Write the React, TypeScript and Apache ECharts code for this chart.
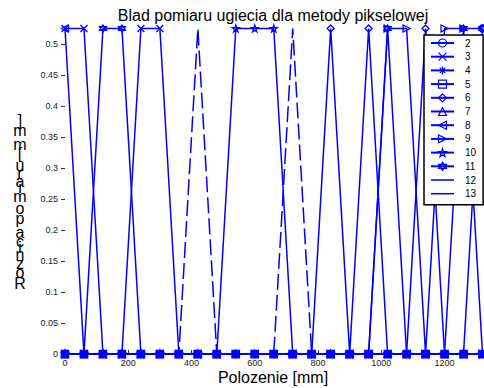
import React, { useEffect, useRef } from "react";
import * as echarts from "echarts";

// Measurement positions along the beam [mm]
const positions = [0, 60, 120, 180, 240, 300, 360, 420, 480, 540, 600, 660, 720, 780, 840, 900, 960, 1020, 1080, 1140, 1200, 1260, 1320];

// Measurement error for each series [mm]
const s2 = [0, 0, 0, 0, 0, 0, 0, 0, 0, 0, 0, 0, 0, 0, 0, 0, 0, 0, 0, 0, 0, 0, 0.525];
const s3 = [0.525, 0.525, 0, 0, 0.525, 0.525, 0, 0, 0, 0, 0, 0, 0, 0, 0, 0, 0, 0, 0, 0, 0, 0, 0];
const s4 = [0, 0, 0, 0, 0, 0, 0, 0, 0, 0, 0, 0, 0, 0, 0, 0, 0, 0, 0, 0, 0, 0, 0];
const s5 = [0, 0, 0, 0, 0, 0, 0, 0, 0, 0, 0, 0, 0, 0, 0, 0, 0, 0, 0, 0, 0, 0, 0];
const s6 = [0, 0, 0, 0, 0, 0, 0, 0, 0, 0, 0, 0, 0, 0, 0.525, 0, 0.525, 0, 0, 0.525, 0, 0, 0];
const s7 = [0, 0, 0, 0, 0, 0, 0, 0, 0, 0, 0, 0, 0, 0, 0, 0, 0, 0, 0, 0, 0, 0, 0];
const s8 = [0.525, 0, 0, 0, 0, 0, 0, 0, 0, 0, 0, 0, 0, 0, 0, 0, 0, 0, 0, 0, 0, 0, 0];
const s9 = [0, 0, 0, 0, 0, 0, 0, 0, 0, 0, 0, 0, 0, 0, 0, 0, 0, 0.525, 0.525, 0, 0.525, 0.525, 0];
const s10 = [0, 0, 0, 0, 0, 0, 0, 0, 0, 0.525, 0.525, 0.525, 0, 0, 0, 0, 0, 0, 0, 0, 0, 0, 0];
const s11 = [0, 0, 0.525, 0.525, 0, 0, 0, 0, 0, 0, 0, 0, 0, 0, 0, 0, 0, 0.525, 0, 0, 0, 0.525, 0.525];
const s12 = [0, 0, 0, 0, 0, 0, 0, 0.525, 0, 0, 0, 0, 0, 0, 0, 0, 0, 0, 0, 0, 0, 0, 0];
const s13 = [0, 0, 0, 0, 0, 0, 0, 0, 0, 0, 0, 0, 0.525, 0, 0, 0, 0, 0, 0, 0, 0, 0, 0];

const seriesNames = ["2", "3", "4", "5", "6", "7", "8", "9", "10", "11", "12", "13"];
const seriesValues = [s2, s3, s4, s5, s6, s7, s8, s9, s10, s11, s12, s13];

const xTicks = [0, 200, 400, 600, 800, 1000, 1200];
const yTicks = [0, 0.05, 0.1, 0.15, 0.2, 0.25, 0.3, 0.35, 0.4, 0.45, 0.5];

const titleText = "Blad pomiaru ugiecia dla metody pikselowej";
const xName = "Polozenie [mm]";
const yName = "Roznica pomiaru [mm]";

const BLUE = "#0000ff";
const FONT = '"Liberation Sans", Arial, Helvetica, sans-serif';

// MATLAB-like marker outlines
const markers: Record<string, string> = {
  "2": "path://M0,5 A5,5 0 1 1 10,5 A5,5 0 1 1 0,5 Z",
  "3": "path://M0,0 L10,10 M10,0 L0,10",
  "4": "path://M5,0 L5,10 M0,5 L10,5 M1.5,1.5 L8.5,8.5 M8.5,1.5 L1.5,8.5",
  "5": "path://M0,0 L10,0 L10,10 L0,10 Z",
  "6": "path://M5,0 L10,5 L5,10 L0,5 Z",
  "7": "path://M5,0 L10,10 L0,10 Z",
  "8": "path://M0,5 L10,0 L10,10 Z",
  "9": "path://M10,5 L0,0 L0,10 Z",
  "10": "path://M5,0 L6.12,3.45 L9.76,3.45 L6.82,5.59 L7.94,9.05 L5,6.91 L2.06,9.05 L3.18,5.59 L0.24,3.45 L3.88,3.45 Z",
  "11": "path://M5,0 L9.33,7.5 L0.67,7.5 Z M5,10 L0.67,2.5 L9.33,2.5 Z",
};

const dashed: Record<string, number[]> = {
  "12": [16, 5],
  "13": [16, 5],
};

// y-axis name as one rich text block: upright letters stacked bottom to top,
// each line as tall as the letter is wide
function verticalName(text: string, cx: number, yBottom: number, yTop: number) {
  const font = `16px ${FONT}`;
  const ctx = document.createElement("canvas").getContext("2d");
  if (ctx) ctx.font = font;
  const chars = Array.from(text);
  const widths = chars.map((ch) => (ctx ? ctx.measureText(ch).width : 8));
  const centers: number[] = [];
  let acc = 0;
  for (const w of widths) {
    centers.push(acc + w / 2);
    acc += w;
  }
  const k = (yBottom - yTop) / (centers[centers.length - 1] - centers[0]);
  const rich: Record<string, any> = {};
  const lines: string[] = [];
  for (let i = chars.length - 1; i >= 0; i--) {
    const key = "c" + i;
    rich[key] = {
      font,
      fill: "#000",
      lineHeight: widths[i] * k,
      align: "center",
    };
    lines.push(`{${key}|${chars[i]}}`);
  }
  const lastH = widths[chars.length - 1] * k;
  return {
    type: "text",
    x: cx,
    y: yTop - lastH / 2,
    silent: true,
    style: {
      text: lines.join("\n"),
      rich,
      fill: "#000",
      font,
      align: "center",
      verticalAlign: "top",
      textAlign: "center",
      textVerticalAlign: "top",
    },
  };
}

export default function App() {
  const ref = useRef<HTMLDivElement>(null);

  useEffect(() => {
    if (!ref.current) return;
    const chart = echarts.init(ref.current, null, { renderer: "svg" });

    const series = seriesNames.map((name, idx) => {
      const values = seriesValues[idx];
      const hasMarker = !!markers[name];
      return {
        name,
        type: "line",
        data: positions.map((x, i) => [x, values[i]]),
        symbol: hasMarker ? markers[name] : "none",
        symbolSize: 7,
        showSymbol: hasMarker,
        clip: false,
        lineStyle: {
          color: BLUE,
          width: 1.5,
          type: dashed[name] ? dashed[name] : "solid",
        },
        itemStyle: hasMarker
          ? { color: "rgba(0,0,0,0)", borderColor: BLUE, borderWidth: 1.3 }
          : { color: BLUE },
        emphasis: { disabled: true },
        z: 2,
      };
    });

    const legendData = seriesNames.map((name) =>
      markers[name]
        ? { name }
        : { name, icon: "path://M0,0 L30,0 L30,2 L0,2 Z" }
    );

    chart.setOption({
      animation: false,
      backgroundColor: "#fff",
      textStyle: { fontFamily: FONT },
      grid: {
        left: 65,
        right: 1.5,
        top: 28.5,
        bottom: 34,
        containLabel: false,
        outerBoundsMode: "none",
      },
      xAxis: {
        type: "value",
        min: 0,
        max: 1320,
        axisLine: { show: true, lineStyle: { color: "#333", width: 1 } },
        axisTick: {
          show: true,
          inside: true,
          length: 4,
          customValues: xTicks,
          lineStyle: { color: "#333" },
        },
        axisLabel: {
          customValues: xTicks,
          fontSize: 9,
          color: "#222",
          margin: 4,
          fontFamily: FONT,
          formatter: (v: number) => String(v),
        },
        splitLine: { show: false },
      },
      yAxis: {
        type: "value",
        min: 0,
        max: 0.525,
        axisLine: { show: false },
        axisTick: {
          show: true,
          inside: false,
          length: 4,
          customValues: yTicks,
          lineStyle: { color: "#333" },
        },
        axisLabel: {
          customValues: yTicks,
          fontSize: 9,
          color: "#222",
          margin: 7,
          fontFamily: FONT,
          formatter: (v: number) => String(v),
        },
        splitLine: { show: false },
      },
      legend: {
        orient: "vertical",
        left: 424,
        top: 35,
        padding: [3, 7, 6, 6],
        itemWidth: 23,
        itemHeight: 10,
        itemGap: 3.7,
        borderColor: "#000",
        borderWidth: 1.5,
        borderRadius: 0,
        backgroundColor: "#fff",
        selectedMode: false,
        itemStyle: { borderWidth: 1.2 },
        textStyle: { fontSize: 10, color: "#000", fontFamily: FONT, padding: [0, 0, 0, 6] },
        data: legendData,
        z: 10,
      },
      graphic: [
        {
          type: "text",
          x: 273,
          y: 15,
          silent: true,
          style: {
            text: titleText,
            fill: "#000",
            font: `16px ${FONT}`,
            align: "center",
            verticalAlign: "middle",
            textAlign: "center",
            textVerticalAlign: "middle",
          },
        },
        {
          type: "text",
          x: 273,
          y: 377.5,
          silent: true,
          style: {
            text: xName,
            fill: "#000",
            font: `16px ${FONT}`,
            align: "center",
            verticalAlign: "middle",
            textAlign: "center",
            textVerticalAlign: "middle",
          },
        },
        verticalName(yName, 20, 283.5, 120.5),
      ],
      series,
    });

    return () => chart.dispose();
  }, []);

  return (
    <div
      ref={ref}
      style={{ position: "absolute", left: 0, top: 0, width: 484, height: 388 }}
    />
  );
}
